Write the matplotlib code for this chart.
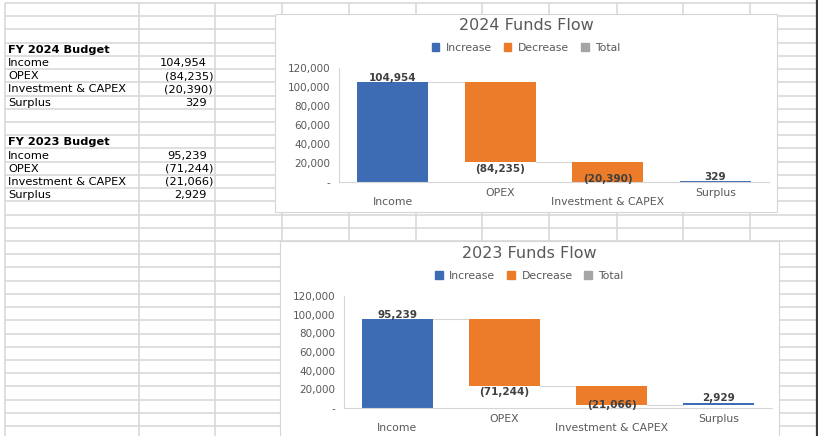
import numpy as np
import matplotlib
matplotlib.use("Agg")
import matplotlib.pyplot as plt
from matplotlib.patches import Rectangle, Patch

# ── data ──────────────────────────────────────────────────────────────
categories = ["Income", "OPEX", "Investment & CAPEX", "Surplus"]
budget_2024 = [104954, -84235, -20390, 329]
budget_2023 = [95239, -71244, -21066, 2929]
y_ticks = [0, 20000, 40000, 60000, 80000, 100000, 120000]
legend_labels = ["Increase", "Decrease", "Total"]

# ── style ─────────────────────────────────────────────────────────────
W, H = 818, 436
BLUE = "#3E6CB4"
ORANGE = "#EC7B2A"
GRAY = "#A5A5A5"
GRID = "#D6D6D6"
TEXT = "#595959"
LABEL = "#404040"
plt.rcParams["font.family"] = ["DejaVu Sans"]


def px_box(x0, y0, x1, y1):
    """pixel box (top-left origin) -> figure fraction rect"""
    return [x0 / W, 1 - y1 / H, (x1 - x0) / W, (y1 - y0) / H]


def fmt(v):
    return f"({abs(v):,})" if v < 0 else f"{v:,}"


fig = plt.figure(figsize=(W / 100, H / 100), dpi=100)
bg = fig.add_axes([0, 0, 1, 1])
bg.set_xlim(0, W)
bg.set_ylim(H, 0)
bg.axis("off")

# ══════════════════════════════════════════════════════════════════════
#  SPREADSHEET GRID + TABLE
# ══════════════════════════════════════════════════════════════════════
rows = 3 + 13.22 * np.arange(34)
cols = [5, 139, 215, 282, 349, 416, 482, 549, 617, 683, 750]
bg.hlines(rows, 5, 817, color=GRID, lw=1.1, zorder=1)
bg.vlines(cols, 3, H, color=GRID, lw=1.1, zorder=1)
bg.vlines(817, 0, H, color="#3a3a3a", lw=1.6, zorder=5)


def table_block(first_row, year, values):
    yc = lambda k: (rows[k] + rows[k + 1]) / 2 + 0.5
    bg.text(8, yc(first_row), f"FY {year} Budget", fontsize=8.2,
            fontweight="bold", color="black", va="center", zorder=2)
    for j, (name, v) in enumerate(zip(categories, values)):
        k = first_row + 1 + j
        bg.text(8, yc(k), name, fontsize=8.2, color="black", va="center", zorder=2)
        xr = 213 if v < 0 else 207
        bg.text(xr, yc(k), fmt(v), fontsize=8.2, color="black",
                va="center", ha="right", zorder=2)


table_block(3, 2024, budget_2024)
table_block(10, 2023, budget_2023)


# ══════════════════════════════════════════════════════════════════════
#  WATERFALL CHARTS
# ══════════════════════════════════════════════════════════════════════
def waterfall(area, plot, title_y, legend_y, title, values):
    x0, y0, x1, y1 = area
    bg.add_patch(Rectangle((x0, y0), x1 - x0, y1 - y0, facecolor="white",
                           edgecolor=GRID, lw=0.8, zorder=3))
    cx = (x0 + x1) / 2
    fig.text(cx / W, 1 - title_y / H, title, ha="center", va="center",
             fontsize=11.5, color=TEXT)
    handles = [Patch(color=c) for c in (BLUE, ORANGE, GRAY)]
    fig.legend(handles, legend_labels, loc="center", ncol=3,
               bbox_to_anchor=(cx / W, 1 - legend_y / H), frameon=False,
               fontsize=7.8, labelcolor=TEXT, handlelength=0.7,
               handleheight=0.7, handletextpad=0.6, columnspacing=1.1)

    ax = fig.add_axes(px_box(*plot))
    ax.patch.set_alpha(0)
    width = 0.66
    run = 0
    for i, v in enumerate(values):
        bottom = run if v >= 0 else run + v
        ax.bar(i, abs(v), bottom=bottom, width=width,
               color=BLUE if v >= 0 else ORANGE, zorder=2)
        if v >= 0:
            ax.annotate(fmt(v), (i, bottom + v), xytext=(0, -0.5),
                        textcoords="offset points", ha="center", va="bottom",
                        fontsize=7.5, fontweight="bold", color=LABEL)
        elif bottom > 9000:
            ax.annotate(fmt(v), (i, bottom), xytext=(0, -1),
                        textcoords="offset points", ha="center", va="top",
                        fontsize=7.5, fontweight="bold", color=LABEL)
        else:
            ax.annotate(fmt(v), (i, 0), xytext=(0, -1.5),
                        textcoords="offset points", ha="center", va="bottom",
                        fontsize=7.5, fontweight="bold", color=LABEL)
        run += v
        if i < len(values) - 1:
            ax.plot([i + width / 2, i + 1 - width / 2], [run, run],
                    color=GRID, lw=0.8, zorder=1)

    ax.set_xlim(-0.5, len(values) - 0.5)
    ax.set_ylim(0, 120000)
    ax.set_yticks(y_ticks)
    ax.set_yticklabels(["-" if t == 0 else f"{t:,}" for t in y_ticks])
    ax.set_xticks(range(len(categories)))
    ax.set_xticklabels([("\n" + c) if i % 2 == 0 else c
                        for i, c in enumerate(categories)])
    for lab in ax.get_xticklabels():
        lab.set_linespacing(0.95)
    ax.tick_params(axis="y", length=0, labelsize=7.5, labelcolor=TEXT, pad=6)
    ax.tick_params(axis="x", length=0, labelsize=7.8, labelcolor=TEXT, pad=4)
    for s in ("top", "right"):
        ax.spines[s].set_visible(False)
    for s in ("left", "bottom"):
        ax.spines[s].set_color(GRID)
        ax.spines[s].set_linewidth(0.8)
    return ax


waterfall((275, 14, 777, 212), (339, 68, 769, 182), 25, 48,
          "2024 Funds Flow", budget_2024)
waterfall((280, 241, 779, 440), (344, 296, 772, 408), 253, 276,
          "2023 Funds Flow", budget_2023)

fig.savefig("out.png", dpi=100)
